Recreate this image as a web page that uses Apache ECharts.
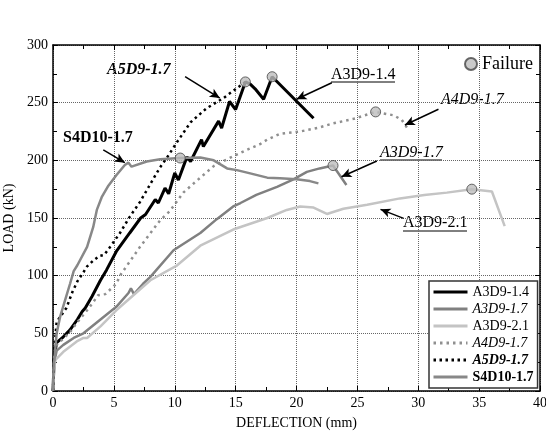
<!DOCTYPE html>
<html>
<head>
<meta charset="utf-8">
<script src="https://cdn.jsdelivr.net/npm/echarts@6/dist/echarts.min.js"></script>
<style>
    html, body { margin: 0; padding: 0; background: #fff; }
    #chart { width: 546px; height: 433px; }
</style>
</head>
<body>
<div id="chart"></div>
<script>
// deflection (mm), load (kN)
var a3d9_14 = [[0,0],[0.1,30],[0.3,42],[0.85,47],[1.4,53],[2.0,62],[2.4,69],[2.65,72],[3.2,82],[3.9,96],[4.4,105],[5.2,121],[6.3,137],[7.2,150],[7.6,153],[8.4,166],[8.65,163],[9.2,176],[9.5,171],[10.0,189],[10.3,183],[11.0,203],[11.3,199],[12.2,218],[12.35,212],[13.6,234],[13.85,228],[14.5,251],[15.0,244],[15.8,268],[16.2,266],[16.6,262],[17.3,253],[18.0,272.5],[21.4,236.5]];
var a3d9_17 = [[0,0],[0.1,25],[0.3,35],[0.85,40],[1.7,46],[2.5,50],[3.9,62],[5.2,73],[6.2,85],[6.4,89],[6.65,84],[7.4,93],[8.0,99],[9.9,122],[12.1,137],[13.45,149],[14.8,160],[15.4,163],[16.7,170],[18.4,177],[19.75,183.5],[20.85,190],[21.9,193],[23.0,195.5],[24.1,178.6]];
var a3d9_21 = [[0,0],[0.1,20],[0.2,27],[0.85,34],[1.95,43],[2.5,46],[2.8,46],[3.9,56],[5.2,70],[6.6,83],[8.0,96],[10.2,109],[12.1,126],[14.8,140],[17.6,150],[19.2,157],[20.3,160],[21.4,159],[22.5,153.5],[23.85,158],[25.8,161.5],[28.5,167],[30.5,170],[32.35,172],[34.4,175],[36.05,173],[37.1,143]];
var a4d9_17 = [[0,0],[0.1,30],[0.3,40],[0.8,45],[1.4,51],[1.95,59],[2.8,70],[3.3,77],[3.7,83],[4.3,84],[4.7,88],[5.2,93],[5.5,100],[7.15,125],[8.8,148],[9.6,156],[10.7,172],[12.1,185],[13.2,195],[14.5,202],[15.9,209],[17.0,214],[17.6,218],[18.65,223],[20.3,225],[21.7,228],[23.0,232],[24.7,236],[26.5,242],[28.0,239],[28.65,235],[29.1,228]];
var a5d9_17 = [[0,0],[0.1,35],[0.3,60],[0.7,66],[1.1,72],[1.6,86],[2.0,95],[2.5,103],[2.8,108],[3.3,113],[3.8,117],[4.2,118],[4.7,125],[5.5,137],[6.3,151],[7.15,164],[7.7,174],[8.24,184],[8.8,194],[9.34,202],[10.2,216],[11.3,233],[12.6,245],[14.0,254],[15.1,262.5],[15.8,268]];
var s4d10_17 = [[0,0],[0.05,20],[0.3,50],[0.6,65],[1.0,79],[1.4,93],[1.7,104],[2.0,109],[2.8,125],[3.3,142],[3.6,157],[4.0,168],[4.55,178],[5.2,187],[5.9,196],[6.2,198],[6.45,194.5],[7.7,199],[8.8,201],[10.45,202],[12.1,202.5],[13.2,200],[14.3,193],[15.1,191.5],[16.2,188.7],[17.6,185],[18.65,184.4],[20.0,183.5],[21.1,182],[21.8,180]];
var failure = [[10.45,202],[15.8,268],[18.0,272.5],[23.0,195.5],[26.5,242],[34.4,175]];

// annotation arrows: [from, to] in data units
var arrows = [
    [[10.85,272.5],[13.7,254]],
    [[22.9,267.3],[20.0,253]],
    [[31.66,244.3],[28.9,230.6]],
    [[26.6,199.4],[23.7,185.8]],
    [[28.8,149.7],[26.9,157.5]],
    [[4.13,209],[5.9,198]]
];

var serif = '"Liberation Serif", "DejaVu Serif", serif';
var legendFmt = {
    'A3D9-1.4': 'n',
    'A3D9-1.7': 'i',
    'A3D9-2.1': 'n',
    'A4D9-1.7': 'i',
    'A5D9-1.7': 'bi',
    'S4D10-1.7': 'b'
};

var chart = echarts.init(document.getElementById('chart'));

function lineSeries(name, data, color, width, type) {
    return {
        name: name,
        type: 'line',
        data: data,
        symbol: 'none',
        showSymbol: false,
        smooth: false,
        lineStyle: { color: color, width: width, type: type || 'solid' },
        itemStyle: { color: color },
        animation: false
    };
}

var axisCommon = {
    type: 'value',
    axisLine: { show: true, onZero: false, lineStyle: { color: '#000', width: 1.5 } },
    axisTick: { show: true, inside: true, length: 5, lineStyle: { color: '#000' } },
    minorTick: { show: true, splitNumber: 2, length: 4, lineStyle: { color: '#000' } }
};

function textEl(text, x, y, font) {
    return {
        type: 'text', x: x, y: y, silent: true,
        style: { text: text, font: font, fill: '#000', align: 'left', verticalAlign: 'middle' }
    };
}
function underline(x1, x2, y) {
    return {
        type: 'line', silent: true,
        shape: { x1: x1, y1: y, x2: x2, y2: y },
        style: { stroke: '#000', lineWidth: 1 }
    };
}

var option = {
    animation: false,
    backgroundColor: '#fff',
    grid: { left: 53, right: 6, top: 45, bottom: 42, containLabel: false, outerBoundsMode: 'none' },
    xAxis: [
        Object.assign({}, axisCommon, {
            min: 0, max: 40, interval: 5,
            name: 'DEFLECTION (mm)', nameLocation: 'middle', nameGap: 25,
            nameTextStyle: { fontFamily: serif, fontSize: 14, color: '#000' },
            axisLabel: { fontFamily: serif, fontSize: 14, color: '#000', margin: 5 },
            splitLine: { show: true, lineStyle: { color: '#666', type: 'dotted', width: 1 } }
        }),
        Object.assign({}, axisCommon, {
            position: 'top', min: 0, max: 40, interval: 5,
            axisLabel: { show: false }, splitLine: { show: false }
        })
    ],
    yAxis: [
        Object.assign({}, axisCommon, {
            min: 0, max: 300, interval: 50,
            name: 'LOAD (kN)', nameLocation: 'middle', nameGap: 29, nameRotate: 90,
            nameTextStyle: { fontFamily: serif, fontSize: 14, color: '#000' },
            axisLabel: { fontFamily: serif, fontSize: 14, color: '#000', margin: 5 },
            splitLine: { show: true, lineStyle: { color: '#666', type: 'dotted', width: 1 } }
        }),
        Object.assign({}, axisCommon, {
            position: 'right', min: 0, max: 300, interval: 50,
            axisLabel: { show: false }, splitLine: { show: false }
        })
    ],
    legend: [
        {
            data: ['A3D9-1.4', 'A3D9-1.7', 'A3D9-2.1', 'A4D9-1.7', 'A5D9-1.7', 'S4D10-1.7'],
            orient: 'vertical',
            left: 429, top: 281,
            padding: [4, 4, 4, 3],
            itemGap: 3,
            itemWidth: 34,
            itemHeight: 14,
            backgroundColor: '#fff',
            borderColor: '#333',
            borderWidth: 1.5,
            borderRadius: 0,
            selectedMode: false,
            itemStyle: { opacity: 0 },
            lineStyle: { width: 3 },
            formatter: function (name) {
                return '{' + legendFmt[name] + '|' + name + '}';
            },
            textStyle: {
                fontFamily: serif, fontSize: 14, color: '#000',
                rich: {
                    n: { fontFamily: serif, fontSize: 14, color: '#000' },
                    i: { fontFamily: serif, fontSize: 14, color: '#000', fontStyle: 'italic' },
                    b: { fontFamily: serif, fontSize: 14, color: '#000', fontWeight: 'bold' },
                    bi: { fontFamily: serif, fontSize: 14, color: '#000', fontWeight: 'bold', fontStyle: 'italic' }
                }
            }
        },
        {
            data: ['Failure'],
            left: 459, top: 50,
            itemWidth: 12, itemHeight: 12,
            selectedMode: false,
            textStyle: { fontFamily: serif, fontSize: 18, color: '#000' }
        }
    ],
    graphic: [
        textEl('A5D9-1.7', 107, 70, 'italic bold 16px ' + serif),
        textEl('A3D9-1.4', 331, 75, '16px ' + serif),
        underline(331, 395, 82),
        textEl('A4D9-1.7', 441, 100, 'italic 16px ' + serif),
        textEl('A3D9-1.7', 380, 153, 'italic 16px ' + serif),
        underline(380, 442, 160),
        textEl('A3D9-2.1', 403, 223, '16px ' + serif),
        underline(403, 467, 231),
        textEl('S4D10-1.7', 63, 138, 'bold 16px ' + serif),
        underline(471, 526, 299),
        underline(471, 525, 316),
        underline(471, 526, 333)
    ],
    series: [
        lineSeries('A3D9-1.4', a3d9_14, '#000000', 3),
        lineSeries('A3D9-1.7', a3d9_17, '#808080', 2.5),
        lineSeries('A3D9-2.1', a3d9_21, '#c4c4c4', 2.5),
        lineSeries('A4D9-1.7', a4d9_17, '#8f8f8f', 2.5, [2.5, 4]),
        lineSeries('A5D9-1.7', a5d9_17, '#000000', 2.5, [2.5, 3.5]),
        lineSeries('S4D10-1.7', s4d10_17, '#888888', 2.5),
        {
            name: 'Failure',
            type: 'scatter',
            data: failure,
            symbol: 'circle',
            symbolSize: 10,
            itemStyle: { color: '#bdbdbd', borderColor: '#444', borderWidth: 1 },
            z: 5,
            markLine: {
                silent: true,
                symbol: ['none', 'arrow'],
                symbolSize: [7, 10],
                label: { show: false },
                lineStyle: { color: '#000', width: 1.5, type: 'solid' },
                data: arrows.map(function (a) {
                    return [{ coord: a[0] }, { coord: a[1] }];
                })
            }
        }
    ]
};

chart.setOption(option);
</script>
</body>
</html>
